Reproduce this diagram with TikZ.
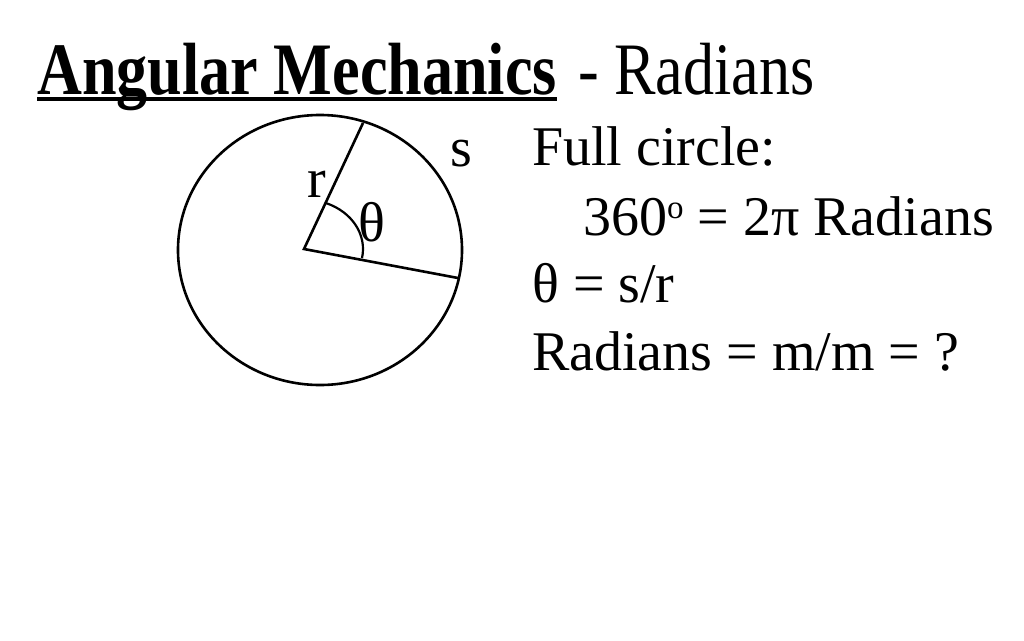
\documentclass[tikz,border=0pt]{standalone}
\usepackage{fontspec}
\setmainfont{Liberation Serif}
\usetikzlibrary{positioning}

\tikzset{
  txt/.style={inner sep=0pt, anchor=base west, font=\fontsize{56}{56}\selectfont},
  lbl/.style={inner sep=0pt, font=\fontsize{56}{56}\selectfont}
}
\newcommand{\dego}{\raisebox{17pt}{\fontsize{33}{33}\selectfont o}}

\begin{document}
\begin{tikzpicture}[x=1pt, y=1pt]
  \useasboundingbox (0,0) rectangle (1024,-640);

  % title
  \node[txt, font=\fontsize{74}{74}\selectfont\bfseries, xscale=0.84] (title) at (37,-94) {Angular Mechanics};
  \draw[line width=4] ([yshift=-5]title.base west) -- ([yshift=-5]title.base east);
  \node[txt, font=\fontsize{74}{74}\selectfont, xscale=0.84] (sub) at (578,-94) {- Radians};

  % circle and angle
  \draw[line width=2.6] (320,-250) ellipse [x radius=142, y radius=135];
  \coordinate (O) at (304,-249);
  \coordinate (A) at (363,-123);
  \coordinate (B) at (458,-278);
  \draw[line width=2.6] (A) -- (O) -- (B);
  \draw[line width=2.2] (O) ++(68:59 and 49.5) arc[start angle=68, end angle=-10.6, x radius=59, y radius=49.5];

  \node[lbl] (r) at (317,-184) {r};
  \node[lbl] (theta) at (372,-222) {θ};
  \node[lbl] (s) at (461,-154) {s};

  % text on the right
  \node[txt] (l1) at (532,-165) {Full circle:};
  \node[txt] (l2) at (583,-235) {360\dego{} = 2π Radians};
  \node[txt] (l3) at (532,-302) {θ = s/r};
  \node[txt] (l4) at (532,-370) {Radians = m/m = ?};
\end{tikzpicture}
\end{document}
